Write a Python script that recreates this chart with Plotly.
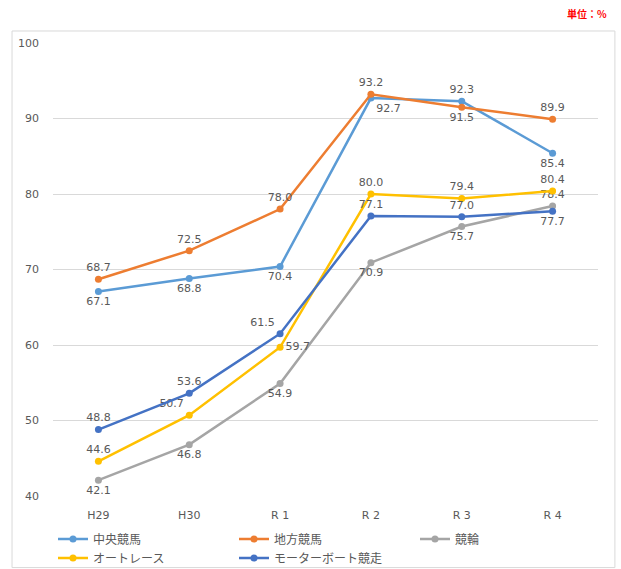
import plotly.graph_objects as go

categories = ["H29", "H30", "R 1", "R 2", "R 3", "R 4"]
series_names = ["中央競馬", "地方競馬", "競輪", "オートレース", "モーターボート競走"]
chuo = [67.1, 68.8, 70.4, 92.7, 92.3, 85.4]
chiho = [68.7, 72.5, 78.0, 93.2, 91.5, 89.9]
keirin = [42.1, 46.8, 54.9, 70.9, 75.7, 78.4]
auto = [44.6, 50.7, 59.7, 80.0, 79.4, 80.4]
boat = [48.8, 53.6, 61.5, 77.1, 77.0, 77.7]
y_ticks = [40, 50, 60, 70, 80, 90, 100]

colors = ["#5B9BD5", "#ED7D31", "#A5A5A5", "#FFC000", "#4472C4"]
positions = [
    ["bottom center", "bottom center", "bottom center", "bottom right", "top center", "bottom center"],
    ["top center", "top center", "top center", "top center", "bottom center", "top center"],
    ["bottom center", "bottom center", "bottom center", "bottom center", "bottom center", "top center"],
    ["top center", "top left", "middle right", "top center", "top center", "top center"],
    ["top center", "top center", "top left", "top center", "top center", "bottom center"],
]
all_data = [chuo, chiho, keirin, auto, boat]

fig = go.Figure()
for name, vals, col, pos in zip(series_names, all_data, colors, positions):
    fig.add_trace(go.Scatter(
        x=categories, y=vals, name=name,
        mode="lines+markers+text",
        line=dict(color=col, width=2.5),
        marker=dict(color=col, size=7),
        text=[f"{v:.1f}" for v in vals],
        textposition=pos,
        textfont=dict(family="DejaVu Sans", size=11, color="#595959"),
    ))

fig.update_layout(
    width=621, height=569,
    margin=dict(l=53, r=23, t=43, b=73, autoexpand=False),
    plot_bgcolor="white", paper_bgcolor="white",
    font=dict(family="Noto Sans CJK JP, DejaVu Sans", color="#595959"),
    xaxis=dict(range=[-0.5, 5.5], showgrid=False, showline=False, zeroline=False,
               tickfont=dict(family="DejaVu Sans", size=11, color="#595959"), ticks="",
               ticklabelstandoff=11),
    yaxis=dict(range=[40, 100], tickvals=y_ticks, showgrid=True, gridcolor="#D9D9D9",
               gridwidth=1, zeroline=False, showline=False, ticklabelstandoff=13,
               tickfont=dict(family="DejaVu Sans", size=11, color="#595959")),
    legend=dict(orientation="h", x=0.0, xanchor="left", y=0.078, yanchor="top",
                yref="container",
                entrywidth=136, entrywidthmode="pixels",
                font=dict(family="Noto Sans CJK JP", size=12, color="#595959"),
                bgcolor="rgba(0,0,0,0)", tracegroupgap=0),
    showlegend=True,
    shapes=[dict(type="rect", xref="paper", yref="paper",
                 x0=-0.0752, x1=1.031, y0=-0.158, y1=1.0265,
                 line=dict(color="#D9D9D9", width=1))],
    annotations=[dict(text="<b>単位：%</b>", xref="paper", yref="paper",
                      x=1.02, y=1.065, xanchor="right", yanchor="middle",
                      showarrow=False,
                      font=dict(family="Noto Sans CJK JP", size=10, color="#FF0000"))],
)

fig.write_html("out.html", config={"displayModeBar": False},
               post_script="document.body.style.margin='0';document.body.style.overflow='hidden';")
